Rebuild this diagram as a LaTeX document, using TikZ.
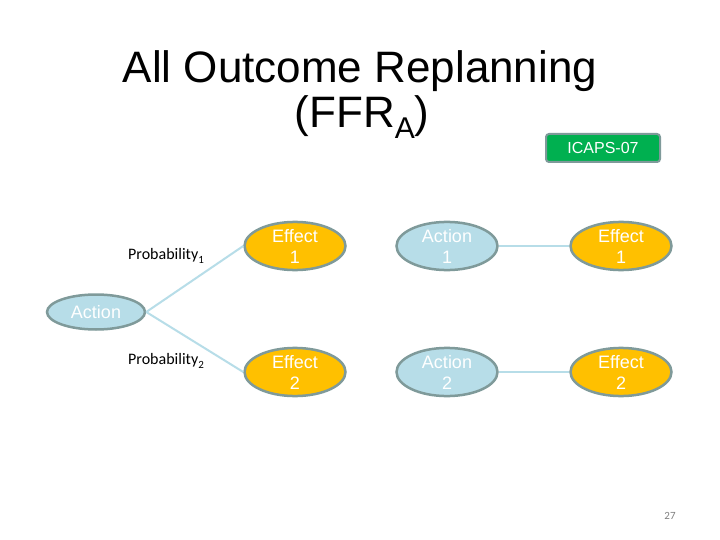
\documentclass[tikz,border=0pt]{standalone}
\usepackage{fontspec}
\setmainfont{Liberation Sans}
\newfontfamily\calib{Carlito}
\usetikzlibrary{shapes.geometric}
\definecolor{actfill}{HTML}{B7DDE8}
\definecolor{efffill}{HTML}{FFC000}
\definecolor{nodeedge}{HTML}{7F9A9A}
\definecolor{linkcol}{HTML}{B7DDE8}
\definecolor{tagfill}{HTML}{00B050}
\newcommand{\lowsub}[1]{\raisebox{-0.25em}{\fontsize{11}{12}\selectfont #1}}
\begin{document}
\begin{tikzpicture}[x=1pt,y=-1pt,
  oval/.style={ellipse, draw=nodeedge, line width=2.5pt, inner sep=0pt,
    minimum width=101pt, minimum height=36pt, text=white, align=center,
    font=\fontsize{18}{21}\selectfont},
  actnode/.style={oval, fill=actfill},
  effnode/.style={oval, fill=efffill},
  link/.style={draw=linkcol, line width=2pt},
  problabel/.style={font=\calib\fontsize{16}{18}\selectfont, anchor=base west, inner sep=0pt}
]
\useasboundingbox (0,0) rectangle (720,540);
\fill[white] (0,0) rectangle (720,540);

\node[anchor=base, inner sep=0pt, font=\fontsize{44}{44}\selectfont] (t1) at (360,83) {All Outcome Replanning};
\node[anchor=base, inner sep=0pt, font=\fontsize{44}{44}\selectfont] (t2) at (362,128) {(FFR\raisebox{-11pt}{\fontsize{30}{30}\selectfont A})};

\node[draw=nodeedge, fill=tagfill, line width=2pt, rounded corners=3pt, minimum width=114pt, minimum height=28pt, inner sep=0pt, text=white, font=\fontsize{16}{18}\selectfont] (tag) at (603,148) {ICAPS-07};

\node[actnode, minimum width=98pt, minimum height=35pt] (act) at (96,312) {Action};
\node[effnode] (e1) at (295,246) {Effect\\1};
\node[effnode] (e2) at (295,372) {Effect\\2};
\node[actnode] (a1) at (447,246) {Action\\1};
\node[actnode] (a2) at (447,372) {Action\\2};
\node[effnode] (f1) at (621,246) {Effect\\1};
\node[effnode] (f2) at (621,372) {Effect\\2};

\draw[link] (act.east) -- (e1.west);
\draw[link] (act.east) -- (e2.west);
\draw[link] (a1.east) -- (f1.west);
\draw[link] (a2.east) -- (f2.west);

\node[problabel] (p1) at (128,259) {Probability\lowsub{1}};
\node[problabel] (p2) at (128,364) {Probability\lowsub{2}};

\node[anchor=base, inner sep=0pt, text=gray, font=\calib\fontsize{11}{12}\selectfont] (pg) at (670,519) {27};
\end{tikzpicture}
\end{document}
